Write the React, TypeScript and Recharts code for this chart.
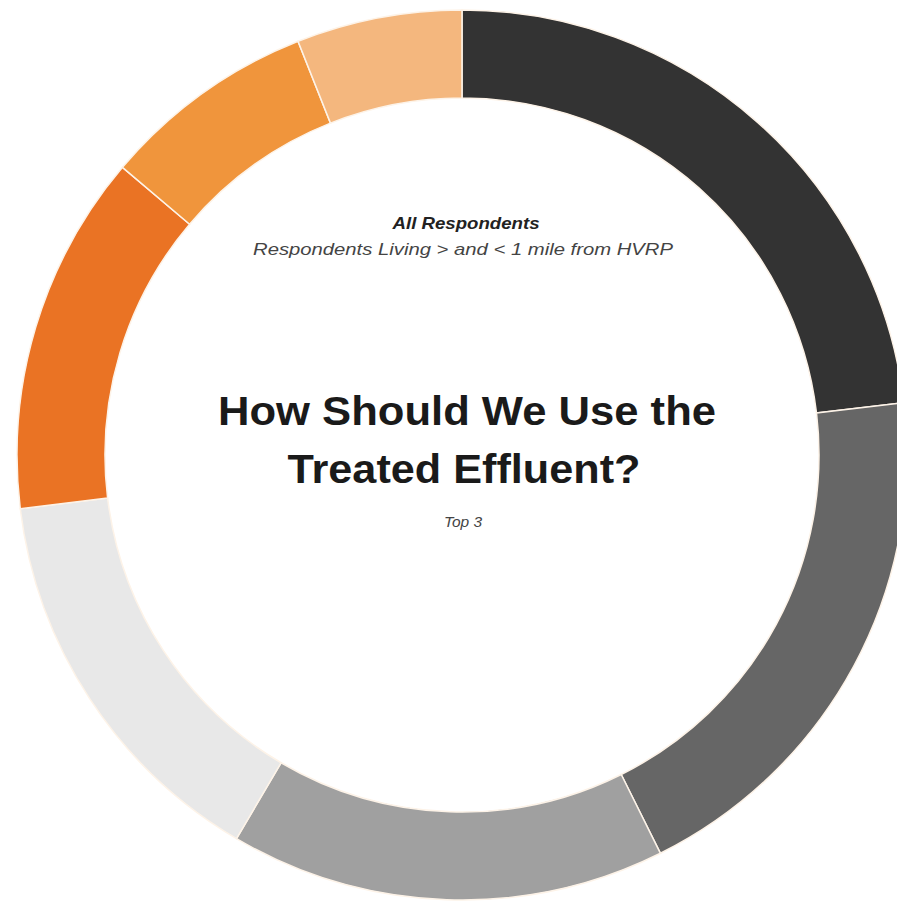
import React from "react";
import { PieChart, Pie, Cell, Label } from "recharts";

// Data (share of responses, %)
const categories = [
  "Option 1",
  "Option 2",
  "Option 3",
  "Option 4",
  "Option 5",
  "Option 6",
  "Option 7",
];
const values = [23.1, 19.5, 15.8, 14.6, 13.1, 7.8, 6.0];

const titleLines = ["How Should We Use the", "Treated Effluent?"];
const subtitleBold = "All Respondents";
const subtitleLine = "Respondents Living > and <  1 mile from HVRP";
const note = "Top 3";

const PALETTE = [
  "#333333",
  "#666666",
  "#a0a0a0",
  "#e8e8e8",
  "#ea7324",
  "#f0953c",
  "#f4b77e",
];

const data = categories.map((name, i) => ({ name, value: values[i] }));

const CenterText = (props: any) => {
  const vb = props.viewBox || {};
  const cx = vb.cx ?? 454;
  const cy = vb.cy ?? 447;
  const font = "'Liberation Sans', Arial, sans-serif";
  return (
    <g>
      <text
        x={cx + 4}
        y={cy - 226}
        textAnchor="middle"
        fontFamily={font}
        fontStyle="italic"
        fontWeight="bold"
        fontSize={16.5}
        fill="#222"
        textLength={147}
        lengthAdjust="spacingAndGlyphs"
      >
        {subtitleBold}
      </text>
      <text
        x={cx + 1}
        y={cy - 200}
        textAnchor="middle"
        fontFamily={font}
        fontStyle="italic"
        fontSize={16.5}
        fill="#444"
        textLength={420}
        lengthAdjust="spacingAndGlyphs"
      >
        {subtitleLine}
      </text>
      <text
        x={cx + 5}
        y={cy - 30}
        textAnchor="middle"
        fontFamily={font}
        fontWeight="bold"
        fontSize={40}
        fill="#1a1a1a"
        textLength={498}
        lengthAdjust="spacingAndGlyphs"
      >
        {titleLines[0]}
      </text>
      <text
        x={cx + 2}
        y={cy + 28}
        textAnchor="middle"
        fontFamily={font}
        fontWeight="bold"
        fontSize={40}
        fill="#1a1a1a"
        textLength={353}
        lengthAdjust="spacingAndGlyphs"
      >
        {titleLines[1]}
      </text>
      <text
        x={cx + 1}
        y={cy + 72}
        textAnchor="middle"
        fontFamily={font}
        fontStyle="italic"
        fontSize={15.5}
        fill="#444"
      >
        {note}
      </text>
    </g>
  );
};

export default function App() {
  return (
    <div style={{ width: 897, height: 897 }}>
      <PieChart
        width={897}
        height={897}
        margin={{ top: 0, right: 0, bottom: 0, left: 0 }}
      >
        <Pie
          data={data}
          dataKey="value"
          nameKey="name"
          cx={454}
          cy={447}
          innerRadius={357}
          outerRadius={445}
          startAngle={90}
          endAngle={-270}
          stroke="#fdf3e8"
          strokeWidth={1.5}
          isAnimationActive={false}
        >
          {data.map((d, i) => (
            <Cell key={d.name} fill={PALETTE[i]} />
          ))}
          <Label position="center" content={<CenterText />} />
        </Pie>
      </PieChart>
    </div>
  );
}
